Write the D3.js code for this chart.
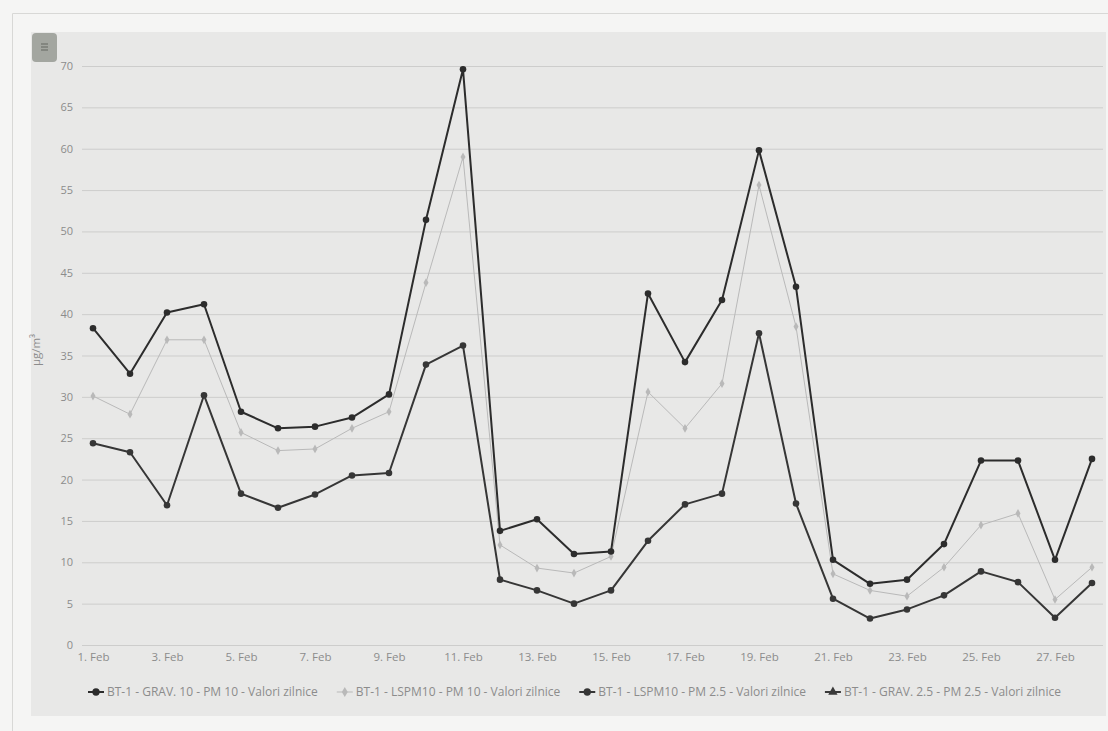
<!DOCTYPE html>
<html>
<head>
<meta charset="utf-8">
<script src="https://cdn.jsdelivr.net/npm/d3@7"></script>
<style>
    body { margin: 0; background: #f5f5f4; font-family: "Open Sans", sans-serif; }
    #chart { width: 1108px; height: 731px; }
</style>
</head>
<body>
<div id="chart"></div>
<script>

// days of February
let days = d3.range(1, 29);

// BT-1 - GRAV. 10 - PM 10
let gravPm10 = [38.3, 32.8, 40.2, 41.2, 28.2, 26.2, 26.4, 27.5, 30.3, 51.4, 69.6, 13.8, 15.2, 11.0,
    11.3, 42.5, 34.2, 41.7, 59.8, 43.3, 10.3, 7.4, 7.9, 12.2, 22.3, 22.3, 10.3, 22.5];

// BT-1 - LSPM10 - PM 10
let lspmPm10 = [30.1, 27.9, 36.9, 36.9, 25.7, 23.5, 23.7, 26.2, 28.2, 43.8, 59.0, 12.1, 9.3, 8.7,
    10.7, 30.6, 26.2, 31.6, 55.6, 38.5, 8.6, 6.6, 5.9, 9.4, 14.5, 15.9, 5.5, 9.4];

// BT-1 - LSPM10 - PM 2.5
let lspmPm25 = [24.4, 23.3, 16.9, 30.2, 18.3, 16.6, 18.2, 20.5, 20.8, 33.9, 36.2, 7.9, 6.6, 5.0,
    6.6, 12.6, 17.0, 18.3, 37.7, 17.1, 5.6, 3.2, 4.3, 6.0, 8.9, 7.6, 3.3, 7.5];

// BT-1 - GRAV. 2.5 - PM 2.5 (no values this month)
let gravPm25 = [];

let seriesNames = [
    "BT-1 - GRAV. 10 - PM 10 - Valori zilnice",
    "BT-1 - LSPM10 - PM 10 - Valori zilnice",
    "BT-1 - LSPM10 - PM 2.5 - Valori zilnice",
    "BT-1 - GRAV. 2.5 - PM 2.5 - Valori zilnice"
];

let yTicks = d3.range(0, 75, 5);
let tickDays = d3.range(1, 28, 2);

class LineVis {

    constructor(parentElement) {
        this.parentElement = parentElement;
        this.series = [
            {name: seriesNames[0], values: gravPm10, color: '#2c2c2c', width: 2, symbol: d3.symbolCircle, size: 34},
            {name: seriesNames[1], values: lspmPm10, color: '#b9b9b9', width: 1, symbol: d3.symbolDiamond, size: 22},
            {name: seriesNames[2], values: lspmPm25, color: '#363636', width: 2, symbol: d3.symbolCircle, size: 34},
            {name: seriesNames[3], values: gravPm25, color: '#3a3a3a', width: 2, symbol: d3.symbolTriangle, size: 30}
        ];
        this.initVis();
    }

    initVis() {
        let vis = this;

        vis.width = 1108;
        vis.height = 731;

        vis.svg = d3.select("#" + vis.parentElement).append("svg")
            .attr("width", vis.width)
            .attr("height", vis.height);

        // outer frame and panel
        vis.svg.append("path")
            .attr("d", "M12.5,731 V13.5 H1108")
            .attr("fill", "none")
            .attr("stroke", "#d8d8d6");
        vis.svg.append("rect")
            .attr("x", 31).attr("y", 32)
            .attr("width", 1075).attr("height", 684)
            .attr("fill", "#e8e8e7");

        // context button
        vis.svg.append("rect")
            .attr("x", 32).attr("y", 33)
            .attr("width", 25).attr("height", 29)
            .attr("rx", 4)
            .attr("fill", "#a3a6a0");
        vis.svg.append("g")
            .selectAll("line").data([0, 1, 2])
            .join("line")
            .attr("x1", 41).attr("x2", 48)
            .attr("y1", d => 44 + d * 3).attr("y2", d => 44 + d * 3)
            .attr("stroke", "#6d716b").attr("stroke-width", 1.2);

        vis.x = d3.scaleLinear().domain([1, 28]).range([93, 1092]);
        vis.y = d3.scaleLinear().domain([0, 70]).range([645, 66]);

        // gridlines
        vis.svg.append("g")
            .attr("class", "grid")
            .attr("transform", "translate(82,0)")
            .call(d3.axisLeft(vis.y).tickValues(yTicks).tickSize(-1021).tickFormat(""))
            .call(g => g.select(".domain").remove())
            .call(g => g.selectAll("line").attr("stroke", "#cdcdcc"));

        // y axis labels
        vis.svg.append("g")
            .attr("transform", "translate(73,0)")
            .call(d3.axisLeft(vis.y).tickValues(yTicks).tickSize(0).tickPadding(0))
            .call(g => g.select(".domain").remove())
            .call(g => g.selectAll("text")
                .attr("fill", "#8c8c8c")
                .style("font-family", "Open Sans")
                .style("font-size", "11px"));

        vis.svg.append("text")
            .attr("transform", "translate(40,350) rotate(-90)")
            .attr("text-anchor", "middle")
            .attr("fill", "#8c8c8c")
            .style("font-size", "11.5px")
            .text("µg/m³");

        // x axis labels
        vis.svg.append("g")
            .attr("transform", "translate(0,653)")
            .call(d3.axisBottom(vis.x).tickValues(tickDays).tickSize(0).tickPadding(0)
                .tickFormat(d => d + ". Feb"))
            .call(g => g.select(".domain").remove())
            .call(g => g.selectAll("text")
                .attr("fill", "#8c8c8c")
                .style("font-family", "Open Sans")
                .style("font-size", "11.5px"));

        vis.line = d3.line()
            .x((d, i) => vis.x(days[i]))
            .y(d => vis.y(d));

        vis.updateVis();
    }

    updateVis() {
        let vis = this;

        // draw light series first so the dark ones sit on top
        let order = [vis.series[1], vis.series[2], vis.series[0]];

        order.forEach(s => {
            vis.svg.append("path")
                .datum(s.values)
                .attr("fill", "none")
                .attr("stroke", s.color)
                .attr("stroke-width", s.width)
                .attr("stroke-linejoin", "round")
                .attr("d", vis.line);

            vis.svg.append("g")
                .selectAll("path")
                .data(s.values)
                .join("path")
                .attr("transform", (d, i) => `translate(${vis.x(days[i])},${vis.y(d)})`)
                .attr("d", d3.symbol().type(s.symbol).size(s.size))
                .attr("fill", s.color);
        });

        // legend
        vis.legend = vis.svg.append("g")
            .attr("transform", "translate(0,692)");

        let xPos = 88;
        vis.series.forEach(s => {
            let item = vis.legend.append("g")
                .attr("transform", `translate(${xPos},0)`);
            item.append("line")
                .attr("x1", 0).attr("x2", 16)
                .attr("stroke", s.color)
                .attr("stroke-width", s.width);
            item.append("path")
                .attr("transform", "translate(8,0)")
                .attr("d", d3.symbol().type(s.symbol).size(s.size + 8))
                .attr("fill", s.color);
            let t = item.append("text")
                .attr("x", 19)
                .attr("dy", "0.35em")
                .attr("fill", "#8c8c8c")
                .style("font-size", "12px")
                .text(s.name);
            xPos += 19 + t.node().getComputedTextLength() + 19;
        });
    }
}

new LineVis("chart");

</script>
</body>
</html>
